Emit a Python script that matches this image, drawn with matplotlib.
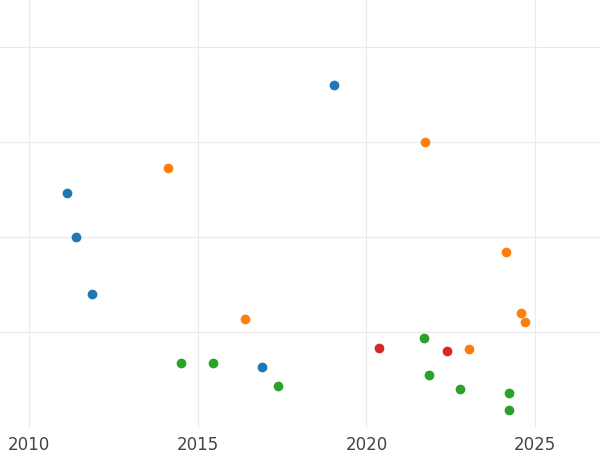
import matplotlib
matplotlib.use("Agg")
import matplotlib.pyplot as plt

# scatter groups (year, value)
blue_x = [2019.04, 2011.13, 2011.39, 2011.87, 2016.91]
blue_y = [3.60, 2.46, 2.00, 1.40, 0.64]
orange_x = [2014.12, 2021.74, 2024.14, 2016.40, 2024.59, 2024.71, 2023.04]
orange_y = [2.73, 3.00, 1.84, 1.14, 1.20, 1.11, 0.82]
green_x = [2014.51, 2015.46, 2017.38, 2021.71, 2021.86, 2022.78, 2024.23, 2024.23]
green_y = [0.68, 0.68, 0.44, 0.94, 0.55, 0.40, 0.36, 0.18]
red_x = [2020.38, 2022.39]
red_y = [0.84, 0.80]

fig = plt.figure(figsize=(6, 4.5), dpi=100)
ax = fig.add_axes([0, 0.05, 1, 0.95])

ax.scatter(blue_x, blue_y, s=36, color="#1f77b4", zorder=3)
ax.scatter(orange_x, orange_y, s=36, color="#ff7f0e", zorder=3)
ax.scatter(green_x, green_y, s=36, color="#2ca02c", zorder=3)
ax.scatter(red_x, red_y, s=36, color="#d62728", zorder=3)

ax.set_xlim(2009.14, 2026.92)
ax.set_ylim(0, 4.49)
ax.set_xticks([2010, 2015, 2020, 2025])
ax.set_yticks([1, 2, 3, 4])
ax.set_yticklabels([])
ax.grid(True, color="#ebebeb", linewidth=0.8)
ax.set_axisbelow(True)
for s in ax.spines.values():
    s.set_visible(False)
ax.tick_params(axis="both", length=0, labelsize=12, colors="#444444", pad=6)

fig.savefig("out.png")
